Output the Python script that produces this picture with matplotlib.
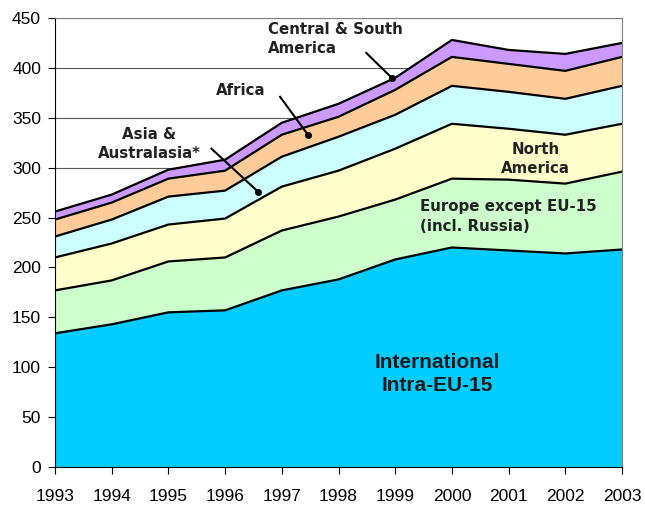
import numpy as np
import matplotlib.pyplot as plt

plt.rcParams['font.family'] = ['Liberation Sans', 'DejaVu Sans']

years = [1993, 1994, 1995, 1996, 1997, 1998, 1999, 2000, 2001, 2002, 2003]
intra_eu = [134, 143, 155, 157, 177, 188, 208, 220, 217, 214, 218]
europe_other = [43, 44, 51, 53, 60, 63, 60, 69, 71, 70, 78]
north_america = [33, 37, 37, 39, 44, 46, 51, 55, 51, 49, 48]
asia = [21, 24, 28, 28, 30, 34, 34, 38, 37, 36, 38]
africa = [17, 17, 18, 20, 22, 20, 25, 29, 28, 28, 29]
cs_america = [8, 8, 9, 11, 12, 13, 12, 17, 14, 17, 14]

series = [intra_eu, europe_other, north_america, asia, africa, cs_america]
colors = ['#00CCFF', '#CCFFCC', '#FFFFCC', '#CCFFFF', '#FFCC99', '#CC99FF']

fig = plt.figure(figsize=(6.45, 5.05), dpi=100)
ax = fig.add_axes([55 / 645, 38 / 505, 567 / 645, 449 / 505])

for y in range(250, 451, 50):
    ax.axhline(y, color='#555555', lw=0.8, zorder=0)

cum = np.cumsum(np.array(series, dtype=float), axis=0)
bottom = np.zeros(len(years))
for top, c in zip(cum, colors):
    ax.fill_between(years, bottom, top, facecolor=c, edgecolor='none', zorder=1)
    ax.plot(years, top, color='black', lw=1.6, zorder=2)
    bottom = top

ax.set_xlim(1993, 2003)
ax.set_ylim(0, 450)
ax.set_xticks(years)
ax.set_yticks(range(0, 451, 50))
ax.tick_params(axis='both', labelsize=12.5, direction='out', length=5, width=0.8)
ax.tick_params(axis='x', pad=11)
ax.tick_params(axis='y', pad=5)
for s in ['top', 'right']:
    ax.spines[s].set_color('#808080')
ax.spines['left'].set_linewidth(0.8)
ax.spines['bottom'].set_linewidth(0.8)

# region labels (wide bold face to mimic the spaced-out lettering)
lab = dict(fontsize=10.8, fontweight='bold', color='#222222', zorder=5,
           family='DejaVu Sans', linespacing=1.35)
ax.text(1999.75, 93, 'International\nIntra-EU-15', ha='center', va='center',
        fontsize=15, fontweight='bold', color='#1a1a1a', linespacing=1.25, zorder=5)
ax.text(1999.43, 251, 'Europe except EU-15\n(incl. Russia)', ha='left', va='center', **lab)
ax.text(2001.47, 309, 'North\nAmerica', ha='center', va='center', **lab)
ax.text(1994.66, 324, 'Asia &\nAustralasia*', ha='center', va='center', **lab)
ax.text(1995.83, 377, 'Africa', ha='left', va='center', **lab)
ax.text(1996.76, 429, 'Central & South\nAmerica', ha='left', va='center', **lab)

arrows = [((1998.49, 415), (1998.94, 390)),
          ((1996.97, 371), (1997.46, 333)),
          ((1995.76, 319), (1996.58, 276))]
for (x0, y0), (x1, y1) in arrows:
    ax.plot([x0, x1], [y0, y1], color='black', lw=1.5, zorder=4)
    ax.plot(x1, y1, 'o', color='black', ms=4, zorder=4)

# title sits mostly above the visible area, as in the source image
fig.text(0.16, 1.005, '(million passengers by region)', fontsize=11.5,
         fontweight='bold', ha='left', va='baseline')

fig.savefig('out.png', dpi=100)
